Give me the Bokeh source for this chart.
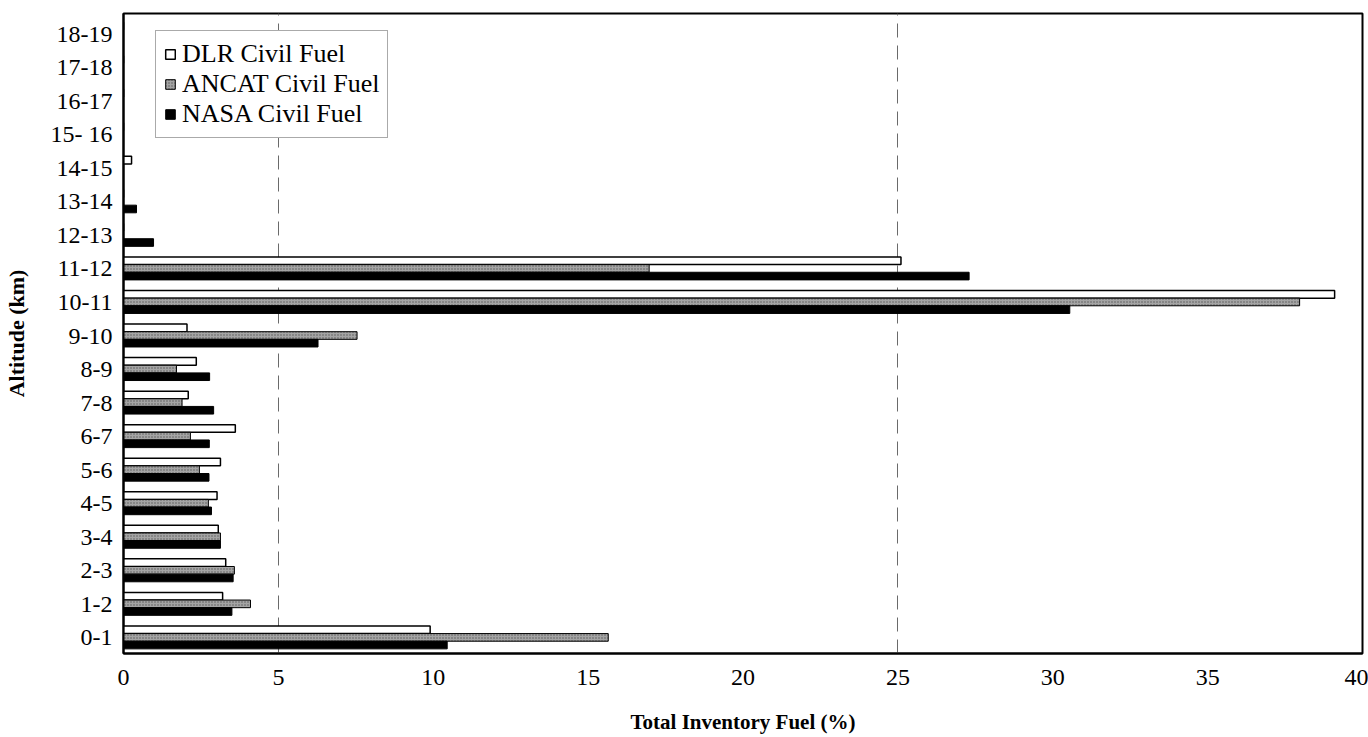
from bokeh.plotting import figure
from bokeh.models import ColumnDataSource, FixedTicker, Legend, LegendItem, Range1d
from bokeh.transform import dodge
from bokeh.embed import file_html
from bokeh.resources import INLINE

# Altitude bands (km), bottom to top
altitudes = ["0-1", "1-2", "2-3", "3-4", "4-5", "5-6", "6-7", "7-8", "8-9", "9-10",
             "10-11", "11-12", "12-13", "13-14", "14-15", "15- 16", "16-17", "17-18", "18-19"]

# Share of total inventory fuel (%) per altitude band
dlr_fuel = [9.9, 3.2, 3.3, 3.06, 3.02, 3.13, 3.61, 2.09, 2.35, 2.05,
            39.1, 25.1, 0.0, 0.0, 0.26, 0.0, 0.0, 0.0, 0.0]
ancat_fuel = [15.65, 4.1, 3.58, 3.13, 2.74, 2.45, 2.16, 1.89, 1.71, 7.54,
              37.97, 16.97, 0.0, 0.0, 0.0, 0.0, 0.0, 0.0, 0.0]
nasa_fuel = [10.45, 3.5, 3.54, 3.13, 2.84, 2.76, 2.77, 2.91, 2.78, 6.28,
             30.55, 27.3, 0.97, 0.42, 0.0, 0.0, 0.0, 0.0, 0.0]

x_ticks = [0, 5, 10, 15, 20, 25, 30, 35, 40]
grid_at = [5, 25]

pos = list(range(len(altitudes)))
src = ColumnDataSource(dict(pos=pos, dlr=dlr_fuel, ancat=ancat_fuel, nasa=nasa_fuel))

SERIF = "Liberation Serif"
BAR_H = 0.228

p = figure(width=1368, height=737, output_backend="svg", toolbar_location=None,
           x_range=Range1d(0, 40), y_range=Range1d(-0.48, 18.6),
           min_border_left=122, min_border_right=6, min_border_top=13, min_border_bottom=84)
p.background_fill_color = "white"
p.border_fill_color = "white"
p.outline_line_color = "black"
p.outline_line_width = 2

r_dlr = p.hbar(y=dodge("pos", BAR_H, range=p.y_range), right="dlr", left=0, height=BAR_H,
               source=src, fill_color="white", line_color="black", line_width=1.5)
r_ancat = p.hbar(y="pos", right="ancat", left=0, height=BAR_H, source=src,
                 fill_color="#a4a4a4", line_color="black", line_width=1,
                 hatch_pattern="dot", hatch_color="#5a5a5a", hatch_scale=3, hatch_weight=1)
r_nasa = p.hbar(y=dodge("pos", -BAR_H, range=p.y_range), right="nasa", left=0, height=BAR_H,
                source=src, fill_color="black", line_color="black", line_width=1)

# Axes
p.xaxis.ticker = FixedTicker(ticks=x_ticks)
p.yaxis.ticker = FixedTicker(ticks=pos)
p.yaxis.major_label_overrides = {i: lab for i, lab in enumerate(altitudes)}
for ax in (p.xaxis[0], p.yaxis[0]):
    ax.axis_line_color = "black"
    ax.axis_line_width = 2
    ax.major_tick_line_color = None
    ax.minor_tick_line_color = None
    ax.major_label_text_font = SERIF
    ax.major_label_text_font_size = "24px"
    ax.major_label_text_color = "black"
    ax.axis_label_text_font = SERIF
    ax.axis_label_text_font_style = "bold"
    ax.axis_label_text_color = "black"

p.xaxis.axis_label = "Total Inventory Fuel (%)"
p.xaxis.axis_label_text_font_size = "21px"
p.xaxis.major_label_standoff = 10
p.xaxis.axis_label_standoff = 22

p.yaxis.axis_label = "Altitude (km)"
p.yaxis.axis_label_text_font_size = "22px"
p.yaxis.major_label_standoff = 5
p.yaxis.axis_label_standoff = 19

# Grid: dashed verticals only
p.ygrid.grid_line_color = None
p.xgrid.ticker = FixedTicker(ticks=grid_at)
p.xgrid.grid_line_color = "#6a6a6a"
p.xgrid.grid_line_width = 1
p.xgrid.grid_line_dash = "14 8"

legend = Legend(items=[LegendItem(label="DLR Civil Fuel", renderers=[r_dlr]),
                       LegendItem(label="ANCAT Civil Fuel", renderers=[r_ancat]),
                       LegendItem(label="NASA Civil Fuel", renderers=[r_nasa])],
                location=(32, 515))
legend.label_text_font = SERIF
legend.label_text_font_size = "26px"
legend.label_text_color = "black"
legend.glyph_width = 12
legend.glyph_height = 12
legend.label_standoff = 6
legend.spacing = 0
legend.padding = 8
legend.margin = 0
legend.border_line_color = "#555555"
legend.border_line_width = 1.5
legend.background_fill_color = "white"
legend.background_fill_alpha = 1
p.add_layout(legend)

open("out.html", "w").write(file_html(p, INLINE))
